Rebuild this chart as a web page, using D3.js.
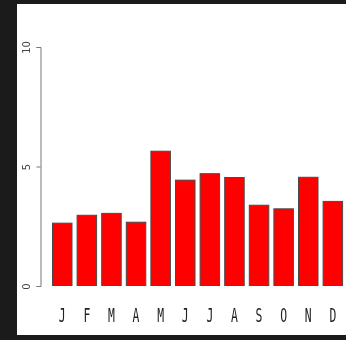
<!DOCTYPE html>
<html>
<head>
<meta charset="utf-8">
<script src="https://cdn.jsdelivr.net/npm/d3@7"></script>
<style>
  html, body { margin: 0; padding: 0; background: #1b1b1b; }
  svg { display: block; }
  .mlab, .yax { filter: grayscale(1); }
</style>
</head>
<body>
<script>
const months = ["J","F","M","A","M","J","J","A","S","O","N","D"];
const values = [2.65, 2.98, 3.06, 2.69, 5.66, 4.45, 4.72, 4.56, 3.40, 3.25, 4.57, 3.56];
const yTicks = [0, 5, 10];

const W = 346, H = 340;
const svg = d3.select("body").append("svg").attr("width", W).attr("height", H);

svg.append("rect").attr("x", 0).attr("y", 0).attr("width", W).attr("height", H).attr("fill", "#1b1b1b");
svg.append("rect").attr("x", 17).attr("y", 4).attr("width", W - 17).attr("height", 331).attr("fill", "#ffffff");

const x = d3.scaleBand()
  .domain(d3.range(months.length))
  .range([49.95, 345.15])
  .paddingInner(1/6)
  .paddingOuter(1/12);

const y = d3.scaleLinear().domain([0, 10]).range([286, 47]);

// bars
svg.append("g").selectAll("rect")
  .data(values)
  .join("rect")
  .attr("x", (d, i) => x(i) + 0.5)
  .attr("y", d => y(d) + 0.5)
  .attr("width", x.bandwidth() - 1)
  .attr("height", d => y(0) - y(d) - 1)
  .attr("fill", "#ff0000")
  .attr("stroke", "#4a4a4a")
  .attr("stroke-width", 1);

// y axis
const yAxis = d3.axisLeft(y).tickValues(yTicks).tickSize(4).tickFormat(d3.format("d"));
const gy = svg.append("g").attr("class", "yax").attr("transform", "translate(40.5,0)").call(yAxis);
gy.select(".domain").attr("stroke", "#777").attr("d", `M-4,${y(10)+0.5}H0.5V${y(0)+0.5}H-4`);
gy.selectAll(".tick line").attr("stroke", "#777");
gy.selectAll(".tick text")
  .attr("x", null).attr("dy", null)
  .attr("transform", "translate(-10.5,0) rotate(-90)")
  .attr("text-anchor", "middle")
  .attr("fill", "#444")
  .attr("font-family", "DejaVu Sans")
  .attr("font-size", 10);

// month labels
svg.append("g").attr("class", "mlab").selectAll("text")
  .data(months)
  .join("text")
  .attr("transform", (d, i) => `translate(${x(i) + x.bandwidth() / 2},321.5) scale(0.6,1)`)
  .attr("text-anchor", "middle")
  .attr("font-family", "DejaVu Sans Mono")
  .attr("font-size", 19)
  .attr("fill", "#222")
  .text(d => d);
</script>
</body>
</html>
